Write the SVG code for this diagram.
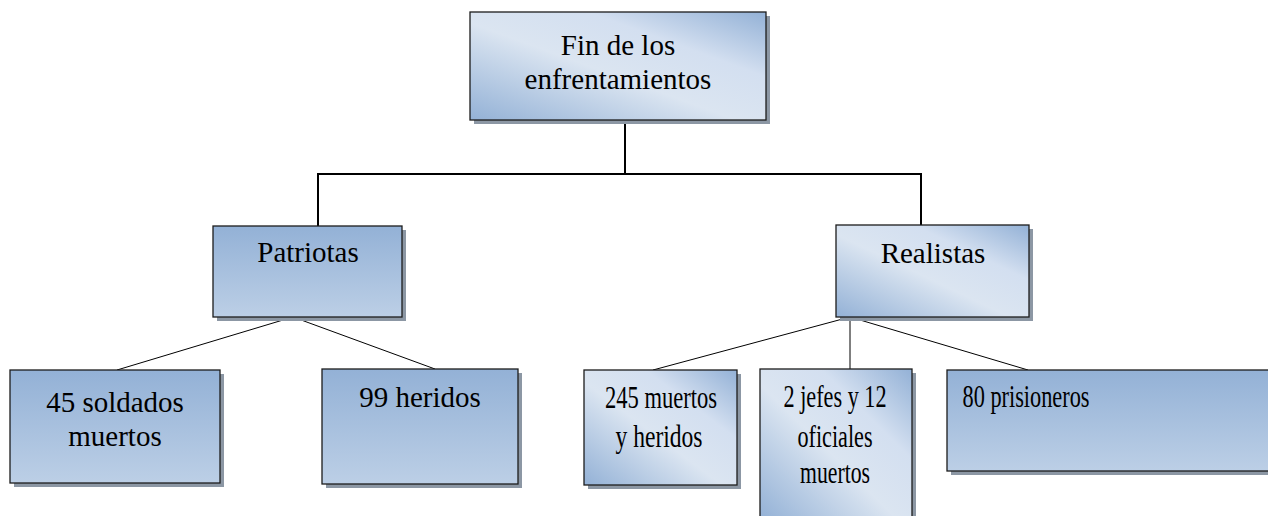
<svg xmlns="http://www.w3.org/2000/svg" width="1268" height="516" viewBox="0 0 1268 516">
<defs>
<linearGradient id="gv" x1="0" y1="0" x2="0" y2="1">
<stop offset="0" stop-color="#93b1d6"/>
<stop offset="1" stop-color="#bccfe6"/>
</linearGradient>
<linearGradient id="gd" x1="0" y1="1" x2="1" y2="0">
<stop offset="0" stop-color="#93b1d6"/>
<stop offset="0.45" stop-color="#dbe5f1"/>
<stop offset="0.7" stop-color="#d3dff0"/>
<stop offset="1" stop-color="#93b1d6"/>
</linearGradient>
</defs>
<style>
.sh{fill:#8c97a4}
.bv{fill:url(#gv);stroke:#1c1c1c;stroke-width:1.3}
.bd{fill:url(#gd);stroke:#1c1c1c;stroke-width:1.3}
.t{font-family:'Liberation Serif','Times New Roman','DejaVu Serif',serif;font-size:29px;fill:#000;text-anchor:middle}
.c{font-size:32px}
.thick{stroke:#000;stroke-width:2;fill:none}
.thin{stroke:#000;stroke-width:1;fill:none}
</style>
<rect width="1268" height="516" fill="#fff"/>
<g id="connectors">
<polyline class="thick" points="625,120 625,174"/>
<polyline class="thick" points="318,226 318,174 921,174 921,225"/>
<line class="thin" x1="293" y1="317" x2="117" y2="370"/>
<line class="thin" x1="293" y1="317" x2="435" y2="369"/>
<line class="thin" x1="850" y1="317" x2="653" y2="370"/>
<line class="thin" x1="850" y1="317" x2="850" y2="369"/>
<line class="thin" x1="850" y1="317" x2="1028" y2="370"/>
</g>
<g id="n-top">
<rect class="sh" x="474" y="16" width="296" height="108"/>
<rect class="bd" x="470" y="12" width="296" height="108"/>
<text class="t" x="618" y="55">Fin de los</text>
<text class="t" x="618" y="89">enfrentamientos</text>
</g>
<g id="n-patriotas">
<rect class="sh" x="217" y="230" width="189" height="91"/>
<rect class="bv" x="213" y="226" width="189" height="91"/>
<text class="t" x="308" y="262">Patriotas</text>
</g>
<g id="n-realistas">
<rect class="sh" x="840" y="229" width="193" height="92"/>
<rect class="bd" x="836" y="225" width="193" height="92"/>
<text class="t" x="933" y="263">Realistas</text>
</g>
<g id="n-45">
<rect class="sh" x="14" y="374" width="210" height="113"/>
<rect class="bv" x="10" y="370" width="210" height="113"/>
<text class="t" x="115" y="412">45 soldados</text>
<text class="t" x="115" y="446">muertos</text>
</g>
<g id="n-99">
<rect class="sh" x="326" y="373" width="196" height="115"/>
<rect class="bv" x="322" y="369" width="196" height="115"/>
<text class="t" x="420" y="407">99 heridos</text>
</g>
<g id="n-245">
<rect class="sh" x="588" y="374" width="153" height="115"/>
<rect class="bd" x="584" y="370" width="153" height="115"/>
<text class="t c" x="661" y="408" textLength="112" lengthAdjust="spacingAndGlyphs">245 muertos</text>
<text class="t c" x="659" y="447" textLength="87" lengthAdjust="spacingAndGlyphs">y heridos</text>
</g>
<g id="n-2jefes">
<rect class="sh" x="764" y="373" width="152" height="150"/>
<rect class="bd" x="760" y="369" width="152" height="150"/>
<text class="t c" x="835" y="407" textLength="103" lengthAdjust="spacingAndGlyphs">2 jefes y 12</text>
<text class="t c" x="835" y="447" textLength="75" lengthAdjust="spacingAndGlyphs">oficiales</text>
<text class="t c" x="835" y="483" textLength="70" lengthAdjust="spacingAndGlyphs">muertos</text>
</g>
<g id="n-80">
<rect class="sh" x="951" y="374" width="330" height="101"/>
<rect class="bv" x="947" y="370" width="330" height="101"/>
<text class="t c" x="1026" y="407" textLength="127" lengthAdjust="spacingAndGlyphs">80 prisioneros</text>
</g>
</svg>
